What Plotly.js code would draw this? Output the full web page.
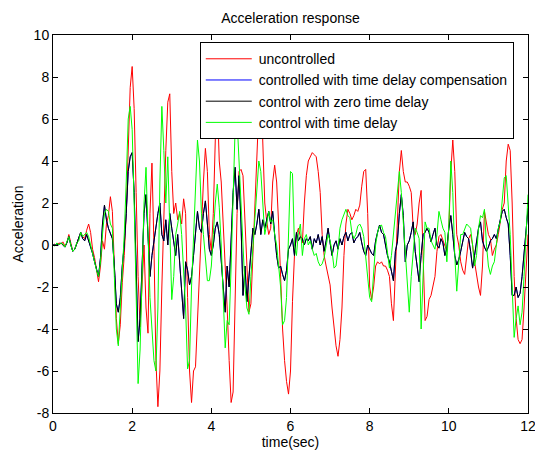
<!DOCTYPE html>
<html>
<head>
<meta charset="utf-8">
<script src="https://cdn.plot.ly/plotly-3.0.1.min.js"></script>
<style>html,body{margin:0;padding:0;background:#fff;}#chart{width:535px;height:450px;}</style>
</head>
<body>
<div id="chart"></div>
<script>
// sampling of the time axis (seconds)
const tStart = 0;
const tStep = 0.05;

const seriesNames = [
  "uncontrolled",
  "controlled with time delay compensation",
  "control with zero time delay",
  "control with time delay"
];

const uncontrolled = [
  0, 0.05, -0.05, 0.1, 0.05, 0.15, -0.05, 0.1, 0.5, 0.1,
  -0.3, -0.2, 0.1, 0.3, 0.6, 0.4, 0.3, 0.7, 1.0, 0.6,
  -0.2, -0.6, -1.3, -1.75, -1.0, 0.2, -0.2, 1.0, 1.4, 2.3,
  1.6, -0.8, -3.5, -4.7, -3.8, -1.8, -0.5, 1.5, 5.0, 7.5,
  8.5, 6.5, 2.5, -1.5, -3.9, -1.5, 0.0, -3.0, -4.2, 1.5,
  3.9, 0.0, -5.5, -7.7, -6.0, -2.0, 1.5, 4.5, 6.8, 7.2,
  3.5, 1.5, 2.0, 1.2, 1.5, 1.0, 2.2, 1.5, -2.5, -6.0,
  -7.5, -6.0, -5.8, -3.5, -1.0, 1.0, 3.0, 4.6, 3.5, 0.5,
  -0.3, 1.5, 5.0, 7.0, 4.0, 3.0, 1.1, -1.5, -3.0, -5.5,
  -7.5, -7.0, -2.5, 1.5, 3.5, 3.6, 3.3, 1.0, -1.5, -3.2,
  -2.8, -0.5, 2.0, 4.5, 6.5, 7.8, 4.5, 2.0, 1.1, 0.5,
  0.8, 3.0, 3.8, 3.0, 1.0, -2.0, -4.0, -5.5, -6.5, -7.1,
  -6.0, -2.7, -0.5, 0.5, 0.8, 0.4, 0.1, 2.0, 3.3, 4.0,
  4.2, 4.4, 4.3, 4.2, 3.5, 2.5, 0.5, -0.5, -1.0, -1.5,
  -1.9, -3.0, -4.0, -4.8, -5.3, -4.5, -3.0, -0.5, 1.0, 1.7,
  1.5, 1.2, 1.4, 1.7, 1.6, 1.9, 2.8, 3.5, 3.6, 1.5,
  -2.0, -2.6, -2.0, -1.0, -0.8, -0.9, -0.8, -1.0, -1.0, -1.2,
  -1.5, -2.8, -3.6, -1.0, 1.5, 3.5, 4.5, 3.5, 3.0, 3.0,
  2.8, 2.5, 0.8, 0.5, 1.0, 2.0, 2.6, 0.0, -3.6, -3.4,
  -2.6, -2.4, -2.0, -1.5, -0.3, 0.4, 0.5, 0.2, 0.0, -0.3,
  0.8, 3.5, 5.0, 3.5, 0.5, 0.0, -0.8, -1.2, -1.4, -0.5,
  0.3, 0.5, 0.0, -0.8, -1.5, -2.0, -2.4, -1.0, 1.6, 1.0,
  0.5, 0.3, -0.5, -0.2, 0.0, 0.5, 1.2, 1.7, 2.0, 4.0,
  4.8, 4.5, 2.0, -1.5, -3.5, -4.5, -4.7, -4.5, -3.0, -1.0,
  0.5
];

const compensated = [
  0, 0, 0.05, 0, 0.1, 0, -0.1, 0.1, 0.4, 0,
  -0.3, -0.2, 0.1, 0.3, 0.6, 0.3, 0.2, 0.5, 0.2, 0,
  -0.4, -0.8, -1.2, -1.5, -0.6, 1.0, 1.9, 1.2, 0.8, 0.5,
  0.3, -1.0, -2.8, -3.2, -2.5, -1.0, 0.0, 1.5, 3.5, 4.2,
  4.4, 2.5, -1.0, -4.6, -3.5, -0.5, 1.5, 2.4, 0.5, -1.5,
  -0.5, 0.2, 1.0, 1.5, 2.0, 0.5, 0.2, 1.2, 0.0, 1.5,
  0.8, 0.0, -0.5, 0.5, -1.0, -2.0, -3.5, -0.8, -1.2, -1.9,
  -1.5, -0.5, 0.5, 1.6, 0.8, 0.6, 1.5, 2.1, 1.0, -0.2,
  -0.5, 0.0, 0.8, 1.1, 0.5, -1.0, -2.0, -3.2, -1.0, -2.0,
  0.5, 2.5, 3.7, 1.7, 3.3, 1.0, -2.4, -1.0, -2.7, -1.5,
  -0.5, 0.8, 0.5, 1.0, 1.7, 0.5, 1.2, 0.8, 1.2, 1.6,
  1.0, 1.6, 0.5, -0.5, -1.1, -1.0, -1.4, -1.7, -1.2, -0.2,
  0.0, 0.3, -0.5, 0.6, 0.2, 0.4, 0.3, 0.0, 0.3, 0.2,
  0.4, -0.2, 0.3, 0.1, 0.5, 0.0, 0.4, -0.3, 0.2, 0.8,
  0.1, -0.5, 0.0, 0.2, -0.2, 0.3, 0.0, 0.4, 0.6, 0.2,
  0.5, 0.6, 0.1, 0.3, 0.4, 0.6, 0.1, -0.3, -0.5, 0.0,
  -0.2, -0.4, -0.5, 0.2, 0.6, 0.95, 0.6, 0.5, 0.0, -0.5,
  -0.8, -1.2, -1.7, -0.3, 0.15, 1.5, 2.4, 1.4, -0.8, 0.0,
  0.2, 0.6, 1.1, -0.3, -1.0, -1.75, -0.5, 0.5, 0.6, 0.8,
  0.6, 0.15, 0.5, 0.8, 0.0, -0.15, 0.3, 0.1, -0.5, -0.15,
  0.8, 1.4, 0.5, -0.5, -0.95, -0.7, -0.3, 0.2, 0.6, 0.4,
  0.3, -0.3, -1.1, -0.5, 0.3, 0.8, 1.1, 0.2, -0.1, -0.3,
  -0.1, 0.2, 0.3, 0.5, 0.3, 0.8, 1.2, 1.6, 1.7, 1.3,
  1.0, -0.5, -2.4, -2.4, -2.0, -2.5, -2.3, -1.5, -0.5, 0.8,
  1.75
];

const zeroDelay = [
  0, 0, 0.05, 0, 0.1, 0, -0.1, 0.1, 0.4, 0,
  -0.3, -0.2, 0.1, 0.3, 0.6, 0.3, 0.2, 0.5, 0.2, 0,
  -0.4, -0.8, -1.2, -1.5, -0.6, 1.0, 1.9, 1.2, 0.8, 0.5,
  0.3, -1.0, -2.8, -3.2, -2.5, -1.0, 0.0, 1.5, 3.5, 4.2,
  4.4, 2.5, -1.0, -4.6, -3.5, -0.5, 1.5, 2.4, 0.5, -1.5,
  -0.5, 0.2, 1.0, 1.5, 2.0, 0.5, 0.2, 1.2, 0.0, 1.5,
  0.8, 0.0, -0.5, 0.5, -1.0, -2.0, -3.5, -0.8, -1.2, -1.9,
  -1.5, -0.5, 0.5, 1.6, 0.8, 0.6, 1.5, 2.1, 1.0, -0.2,
  -0.5, 0.0, 0.8, 1.1, 0.5, -1.0, -2.0, -3.2, -1.0, -2.0,
  0.5, 2.5, 3.7, 1.7, 3.3, 1.0, -2.4, -1.0, -2.7, -1.5,
  -0.5, 0.8, 0.5, 1.0, 1.7, 0.5, 1.2, 0.8, 1.2, 1.6,
  1.0, 1.6, 0.5, -0.5, -1.1, -1.0, -1.4, -1.7, -1.2, -0.2,
  0.0, 0.3, -0.5, 0.6, 0.2, 0.4, 0.3, 0.0, 0.3, 0.2,
  0.4, -0.2, 0.3, 0.1, 0.5, 0.0, 0.4, -0.3, 0.2, 0.8,
  0.1, -0.5, 0.0, 0.2, -0.2, 0.3, 0.0, 0.4, 0.6, 0.2,
  0.5, 0.6, 0.1, 0.3, 0.4, 0.6, 0.1, -0.3, -0.5, 0.0,
  -0.2, -0.4, -0.5, 0.2, 0.6, 0.95, 0.6, 0.5, 0.0, -0.5,
  -0.8, -1.2, -1.7, -0.3, 0.15, 1.5, 2.4, 1.4, -0.8, 0.0,
  0.2, 0.6, 1.1, -0.3, -1.0, -1.75, -0.5, 0.5, 0.6, 0.8,
  0.6, 0.15, 0.5, 0.8, 0.0, -0.15, 0.3, 0.1, -0.5, -0.15,
  0.8, 1.4, 0.5, -0.5, -0.95, -0.7, -0.3, 0.2, 0.6, 0.4,
  0.3, -0.3, -1.1, -0.5, 0.3, 0.8, 1.1, 0.2, -0.1, -0.3,
  -0.1, 0.2, 0.3, 0.5, 0.3, 0.8, 1.2, 1.6, 1.7, 1.3,
  1.0, -0.5, -2.4, -2.4, -2.0, -2.5, -2.3, -1.5, -0.5, 0.8,
  1.75
];

const timeDelay = [
  0, -0.05, 0.1, 0, 0.1, 0.05, -0.1, 0.2, 0.4, 0,
  -0.3, -0.2, 0.1, 0.2, 0.6, 0.4, 0.5, 0.6, 0.4, 0,
  -0.5, -0.8, -1.2, -1.5, -0.8, 0.5, 1.5, 1.7, 1.6, 1.0,
  0.8, -1.5, -4.0, -4.8, -3.0, -1.0, 0.5, 3.0, 6.0, 6.6,
  5.5, 2.0, -3.0, -6.6, -5.0, -1.0, 2.0, 3.7, 1.0, -2.5,
  -4.0, -5.5, -6.0, -3.0, 3.0, 6.6, 4.5, 2.0, 4.2, 1.0,
  -2.6, -1.5, 0.5, 1.0, 1.6, 0.5, -1.0, -3.0, -5.9, -5.5,
  -2.0, 0.5, 3.0, 5.0, 4.0, 1.5, 0.5, -0.5, -1.7, -1.7,
  -1.0, 0.5, 2.0, 2.9, 1.8, 0.0, -2.5, -4.9, -3.6, -3.8,
  -1.0, 2.5, 5.5, 6.0, 4.0, 1.7, -0.5, -2.0, -3.0, -3.3,
  -1.5, 0.0, 1.3, 2.5, 4.0, 3.5, 2.0, 0.5, 1.0, 1.6,
  1.1, 1.2, 0.5, 0.0, -1.0, -2.0, -3.8, -3.6, -2.5, 1.0,
  3.5, 3.4, 0.0, -0.5, 0.6, 1.0, -0.5, 0.3, 0.5, 0.0,
  0.2, -0.2, -0.5, -0.4, -0.8, -1.0, -0.9, -0.6, 0.0, 0.5,
  0.2, -0.3, -1.1, -1.0, -0.2, 0.8, 1.2, 1.5, 1.7, 1.4,
  1.3, 0.6, 0.3, 0.5, 0.9, 1.0, 0.8, 0.4, -0.5, -1.5,
  -2.5, -2.7, -1.5, 0.0, 0.6, 0.9, 0.95, 0.6, 0.4, -0.3,
  -1.1, -0.5, 0.5, 1.5, 2.8, 3.5, 2.5, 1.0, -0.5, -2.0,
  -3.2, -1.5, -0.5, 0.8, 0.6, 0.3, -4.0, -1.5, 1.1, 0.8,
  0.8, 0.2, 0.0, -0.2, 0.5, 1.6, 1.2, 0.8, 0.6, -0.8,
  1.0, 4.0, 2.5, -0.5, -2.2, -1.0, 0.5, 0.5, 0.8, 1.0,
  0.9, 0.8, 0.0, -1.0, -0.5, 0.8, 1.4, 1.3, 1.7, 0.0,
  -1.0, -1.4, -1.0, -0.8, 0.0, 0.8, 1.1, 2.0, 3.2, 3.3,
  1.7, 0.5, -2.0, -4.4, -3.5, -2.9, -3.8, -3.2, -1.5, 0.5,
  2.4
];

const seriesValues = [uncontrolled, compensated, zeroDelay, timeDelay];
const seriesColors = ["#ff0000", "#0000ff", "#000000", "#00ff00"];

const xTicks = [0, 2, 4, 6, 8, 10, 12];
const yTicks = [-8, -6, -4, -2, 0, 2, 4, 6, 8, 10];

const FONT = "Liberation Sans, Arial, Helvetica, sans-serif";

const traces = seriesValues.map((vals, i) => ({
  type: "scatter",
  mode: "lines",
  name: seriesNames[i],
  x0: tStart,
  dx: tStep,
  y: vals,
  line: {color: seriesColors[i], width: 1},
  hoverinfo: "skip"
}));

const axisCommon = {
  showline: true,
  linecolor: "#000",
  linewidth: 1,
  mirror: "ticks",
  ticks: "inside",
  ticklen: 5,
  tickcolor: "#000",
  tickwidth: 1,
  showgrid: false,
  zeroline: false,
  ticklabeloverflow: "allow",
  tickfont: {family: FONT, size: 14, color: "#000"}
};

const layout = {
  width: 535,
  height: 450,
  margin: {l: 53, r: 7, t: 35, b: 37},
  paper_bgcolor: "#fff",
  plot_bgcolor: "#fff",
  showlegend: true,
  title: {
    text: "Acceleration response",
    font: {family: FONT, size: 14, color: "#000"},
    x: 0.543, xanchor: "center",
    y: 0.96, yanchor: "middle"
  },
  xaxis: Object.assign({}, axisCommon, {
    range: [0, 12],
    tickvals: xTicks,
    ticktext: xTicks.map(String),
    title: {text: "time(sec)", font: {family: FONT, size: 14, color: "#000"}, standoff: 3}
  }),
  yaxis: Object.assign({}, axisCommon, {
    range: [-8, 10],
    tickvals: yTicks,
    ticktext: yTicks.map(String),
    title: {text: "Acceleration", font: {family: FONT, size: 14, color: "#000"}, standoff: 6}
  }),
  legend: {
    x: 0.309, xanchor: "left",
    y: 0.981, yanchor: "top",
    bgcolor: "#fff",
    bordercolor: "#000",
    borderwidth: 1,
    itemwidth: 48,
    font: {family: FONT, size: 14, color: "#000"},
    traceorder: "normal"
  }
};

Plotly.newPlot("chart", traces, layout, {displayModeBar: false, staticPlot: true}).then(() => {
  // lengthen the legend line samples to match the reference
  document.querySelectorAll("#chart .legendlines path").forEach(p => p.setAttribute("d", "M5,0h46"));
});
</script>
</body>
</html>
